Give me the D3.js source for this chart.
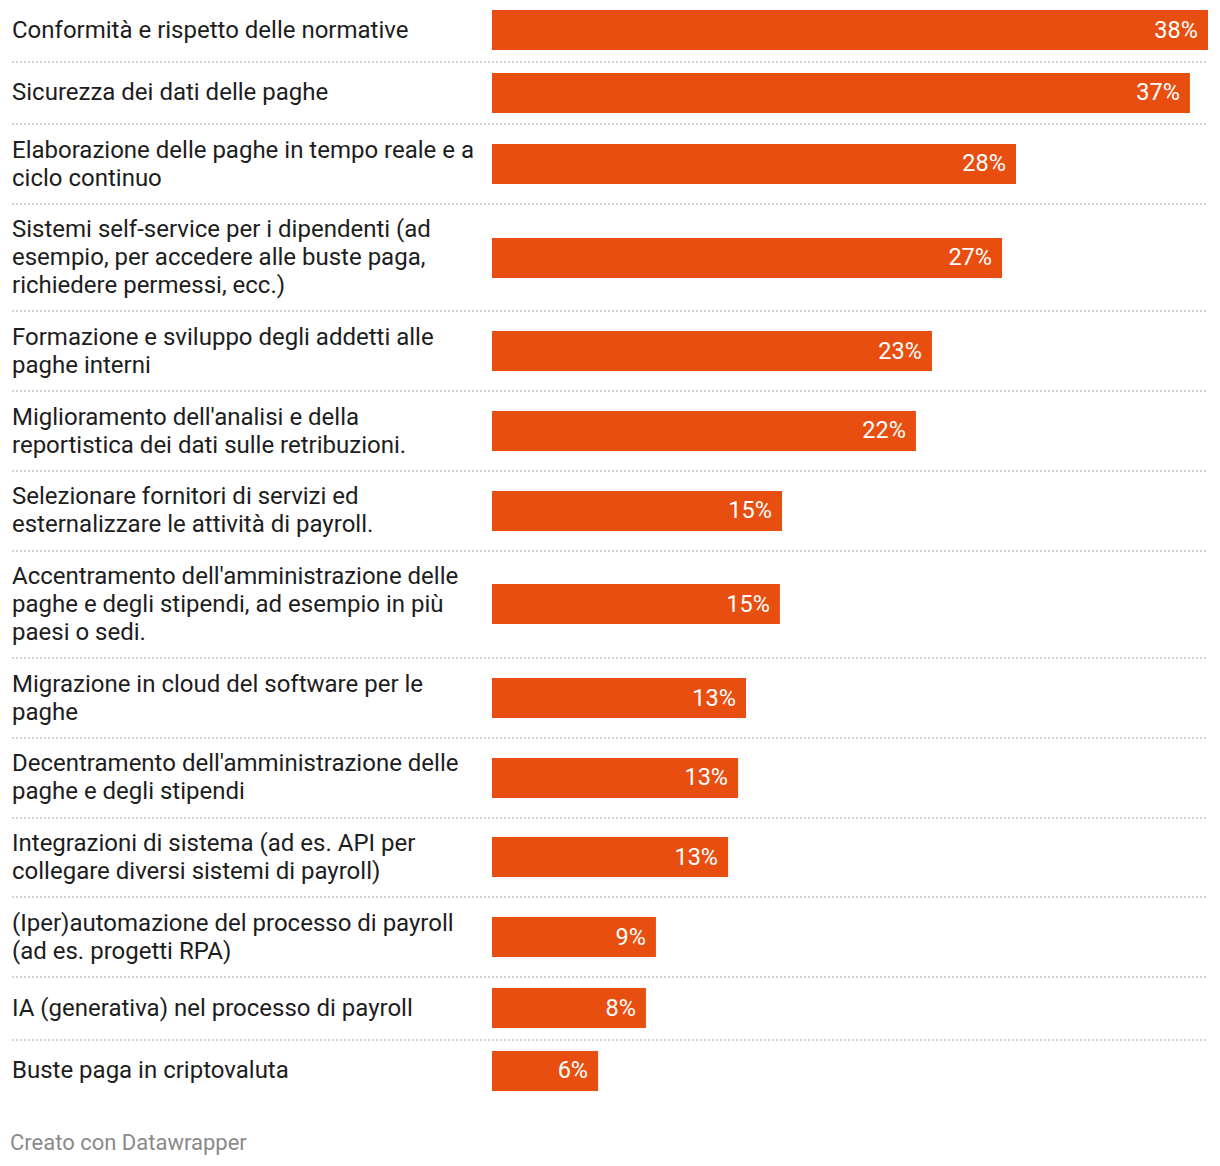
<!DOCTYPE html>
<html><head><meta charset="utf-8">
<script src="https://cdn.jsdelivr.net/npm/d3@7"></script>
<style>
html,body{margin:0;padding:0;background:#fff;}
svg{display:block;font-family:Roboto,"Noto Sans",sans-serif;}
</style></head>
<body>
<svg id="chart" width="1220" height="1166"></svg>
<script>
const categories = [
  "Conformità e rispetto delle normative",
  "Sicurezza dei dati delle paghe",
  "Elaborazione delle paghe in tempo reale e a\nciclo continuo",
  "Sistemi self-service per i dipendenti (ad\nesempio, per accedere alle buste paga,\nrichiedere permessi, ecc.)",
  "Formazione e sviluppo degli addetti alle\npaghe interni",
  "Miglioramento dell'analisi e della\nreportistica dei dati sulle retribuzioni.",
  "Selezionare fornitori di servizi ed\nesternalizzare le attività di payroll.",
  "Accentramento dell'amministrazione delle\npaghe e degli stipendi, ad esempio in più\npaesi o sedi.",
  "Migrazione in cloud del software per le\npaghe",
  "Decentramento dell'amministrazione delle\npaghe e degli stipendi",
  "Integrazioni di sistema (ad es. API per\ncollegare diversi sistemi di payroll)",
  "(Iper)automazione del processo di payroll\n(ad es. progetti RPA)",
  "IA (generativa) nel processo di payroll",
  "Buste paga in criptovaluta"
];
const values = [38.0, 37.04, 27.81, 27.07, 23.35, 22.5, 15.39, 15.28, 13.48, 13.06, 12.53, 8.7, 8.17, 5.63];
const valueLabels = ["38%","37%","28%","27%","23%","22%","15%","15%","13%","13%","13%","9%","8%","6%"];
const footer = "Creato con Datawrapper";

const svg = d3.select("#chart");
const barColor = "#e84e0f";
const x = d3.scaleLinear().domain([0, d3.max(values)]).range([492, 1208]);
const barH = 40, lineH = 28, rowPad = 23.7;

// compute row layout
let rowTop = -1;
const rows = categories.map((c, i) => {
  const lines = c.split("\n");
  const h = lines.length === 1 ? 62.5 : lines.length * lineH + rowPad;
  const r = {label: c, lines, value: values[i], vlabel: valueLabels[i], top: rowTop, h, center: rowTop + h / 2};
  rowTop += h;
  return r;
});

// separators
svg.append("g").selectAll("line").data(rows.slice(0, -1)).join("line")
  .attr("x1", 12).attr("x2", 1208)
  .attr("y1", d => Math.round(d.top + d.h)).attr("y2", d => Math.round(d.top + d.h))
  .attr("stroke", "#d4d4d4").attr("stroke-width", 2).attr("stroke-dasharray", "2,2");

// labels
const lab = svg.append("g").selectAll("text").data(rows).join("text")
  .attr("x", 12).attr("fill", "#1d1d1d").attr("font-size", 24);
lab.each(function(d) {
  const t = d3.select(this);
  const n = d.lines.length;
  d.lines.forEach((ln, k) => {
    t.append("tspan").attr("x", 12)
      .attr("y", d.center + (k - (n - 1) / 2) * lineH)
      .attr("dy", "0.32em").text(ln);
  });
});

// bars
svg.append("g").selectAll("rect").data(rows).join("rect")
  .attr("x", x(0)).attr("y", d => Math.round(d.center - barH / 2))
  .attr("width", d => x(d.value) - x(0)).attr("height", barH)
  .attr("fill", barColor);

// value labels
svg.append("g").selectAll("text").data(rows).join("text")
  .attr("x", d => x(d.value) - 10).attr("y", d => d.center).attr("dy", "0.32em")
  .attr("text-anchor", "end").attr("fill", "#fff").attr("font-size", 23.5)
  .text(d => d.vlabel);

// footer
svg.append("text").attr("x", 10).attr("y", 1150)
  .attr("fill", "#8a8a8a").attr("font-size", 22).text(footer);
</script>
</body></html>
